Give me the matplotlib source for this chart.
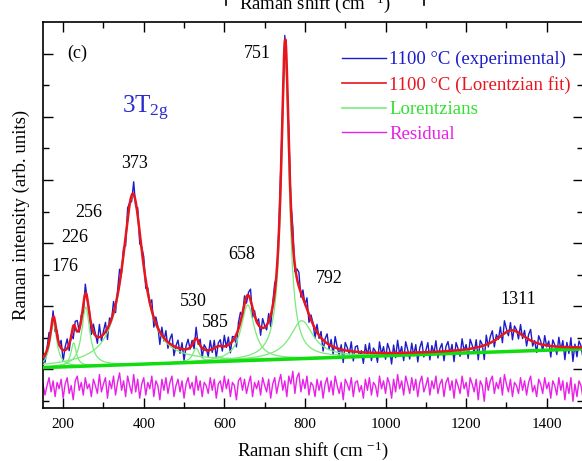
import numpy as np
import matplotlib
matplotlib.use("Agg")
import matplotlib.pyplot as plt
from matplotlib.lines import Line2D

# *
# Fonts
# *
plt.rcParams['font.family'] = ['Liberation Serif', 'DejaVu Serif']
plt.rcParams['mathtext.fontset'] = 'custom'
plt.rcParams['mathtext.rm'] = 'Liberation Serif'
plt.rcParams['mathtext.it'] = 'Liberation Serif:italic'

# *
# Data: Lorentzian fit parameters (position, height above baseline, FWHM)
# *
peak_labels  = ["176", "226", "256", "373", "530", "585", "658", "751", "792", "1311"]
peak_centers = [176, 226, 256, 373, 530, 585, 658, 751, 792, 1313]
peak_heights = [1.40, 0.75, 1.87, 5.35, 0.45, 0.15, 1.76, 9.50, 1.20, 0.65]
peak_fwhm    = [20, 16, 24, 62, 20, 30, 40, 24, 70, 90]

# linear baseline end points
base_x = [150, 1490]
base_y = [1.06, 1.65]

# residual (experimental - fit), read every 5 cm-1 from 150 to 1490
residual = [
    0.10, -0.25, 0.05, 0.30, -0.15, 0.20, -0.30, 0.15, -0.05, 0.25, -0.35, 0.10, 0.30, -0.20, 0.05, -0.40, 0.20, 0.35, -0.10, 0.15,
    -0.25, 0.30, -0.05, 0.10, -0.30, 0.25, 0.05, -0.20, 0.40, -0.15, 0.10, 0.30, -0.35, 0.20, -0.05, 0.35, -0.25, 0.15, 0.45, -0.10,
    0.20, -0.30, 0.35, 0.05, -0.20, 0.40, -0.15, 0.25, -0.35, 0.10, 0.30, -0.25, 0.15, -0.05, 0.35, -0.30, 0.20, 0.05, -0.40, 0.25,
    -0.10, 0.30, -0.20, 0.15, 0.35, -0.30, 0.05, 0.25, -0.15, 0.20, -0.35, 0.10, 0.30, -0.05, 0.15, -0.25, 0.35, -0.10, 0.20, -0.30,
    0.15, 0.05, -0.20, 0.30, -0.10, 0.25, -0.35, 0.10, 0.20, -0.15, 0.35, -0.05, 0.25, -0.30, 0.15, 0.05, -0.40, 0.20, 0.30, -0.10,
    0.25, -0.20, 0.10, 0.35, -0.30, 0.15, -0.05, 0.20, -0.25, 0.30, 0.05, -0.15, 0.25, -0.35, 0.10, 0.30, -0.20, 0.15, 0.40, -0.10,
    0.20, -0.30, 0.35, 0.10, 0.50, -0.20, 0.30, 0.45, -0.15, 0.25, -0.05, 0.35, -0.25, 0.15, 0.05, -0.30, 0.25, -0.10, 0.20, -0.35,
    0.10, 0.30, -0.15, 0.20, -0.25, 0.35, 0.05, -0.20, 0.15, -0.40, 0.25, 0.10, -0.10, 0.30, -0.30, 0.15, 0.20, -0.15, 0.05, -0.35,
    0.25, -0.10, 0.30, -0.25, 0.15, 0.05, -0.30, 0.35, -0.05, 0.20, -0.20, 0.30, 0.10, -0.35, 0.25, -0.15, 0.40, -0.05, 0.20, -0.25,
    0.35, 0.10, -0.20, 0.30, -0.10, 0.25, -0.30, 0.15, 0.35, -0.15, 0.05, 0.30, -0.25, 0.20, -0.05, 0.35, -0.20, 0.10, 0.25, -0.30,
    0.15, 0.30, -0.10, 0.20, -0.35, 0.25, 0.05, -0.20, 0.35, -0.05, 0.15, -0.30, 0.30, 0.10, -0.15, 0.25, -0.40, 0.20, 0.05, -0.45,
    0.30, -0.10, 0.20, 0.35, -0.20, 0.15, -0.05, 0.30, -0.25, 0.40, 0.10, -0.15, 0.25, -0.30, 0.15, 0.05, -0.20, 0.30, -0.10, 0.20,
    -0.25, 0.15, 0.35, -0.15, 0.05, -0.30, 0.25, 0.10, -0.20, 0.30, -0.05, 0.15, -0.35, 0.20, 0.05, -0.25, 0.30, -0.10, 0.20, -0.40,
    0.15, -0.20, 0.30, -0.45, 0.10, -0.30, 0.20, 0.05, -0.35,
]
residual_offset = 0.44

# label positions (cm-1, intensity)
label_x = [205, 229, 264, 378, 522, 577, 644, 683, 860, 1329]
label_y = [4.27, 5.19, 5.98, 7.53, 3.16, 2.50, 4.65, 11.0, 3.89, 3.20]

# *
# Build curves
# *
x_exp = np.arange(150, 1491, 5)
x_fit = np.arange(150, 1490.5, 1.0)

def lorentz(x, x0, h, w):
    g = w / 2.0
    return h * g**2 / ((x - x0)**2 + g**2)

base_fit = np.interp(x_fit, base_x, base_y)
base_exp = np.interp(x_exp, base_x, base_y)

fit_curve = base_fit.copy()
fit_at_exp = base_exp.copy()
for c, h, w in zip(peak_centers, peak_heights, peak_fwhm):
    fit_curve += lorentz(x_fit, c, h, w)
    fit_at_exp += lorentz(x_exp, c, h, w)

exp_curve = fit_at_exp + np.array(residual)
res_curve = np.array(residual) + residual_offset

# *
# Plot
# *
fig = plt.figure(figsize=(5.82, 4.61), dpi=100)
ax = fig.add_axes([43/582, 53/461, 540/582, 386/461])

c_exp = '#1c1cc8'
c_fit = '#e8141e'
c_lor = '#7aea7a'
c_base = '#10dc10'
c_res = '#e820e8'

ax.plot(x_exp, exp_curve, color=c_exp, lw=1.0, zorder=2)
for c, h, w in zip(peak_centers, peak_heights, peak_fwhm):
    ax.plot(x_fit, base_fit + lorentz(x_fit, c, h, w), color=c_lor, lw=0.9, zorder=3)
ax.plot(base_x, base_y, color=c_base, lw=2.5, zorder=4)
ax.plot(x_fit, fit_curve, color=c_fit, lw=1.8, zorder=5)
ax.plot(x_exp, res_curve, color=c_res, lw=1.0, zorder=2)

ax.set_xlim(150, 1490)
ax.set_ylim(-0.22, 12.0)

ax.set_xticks([200, 400, 600, 800, 1000, 1200, 1400])
ax.set_xticks(np.arange(200, 1500, 100), minor=True)
ax.set_yticks([1, 3, 5, 7, 9, 11])
ax.set_yticks([0, 2, 4, 6, 8, 10], minor=True)
ax.set_yticklabels([])
ax.tick_params(which='both', direction='in', top=True, right=True, width=1.0, pad=7, labelsize=11)
ax.tick_params(which='major', length=7)
ax.tick_params(which='minor', length=4)
for sp in ax.spines.values():
    sp.set_linewidth(1.2)

ax.set_xlabel("Raman shift (cm $^{-1}$)", fontsize=13.5, labelpad=6)
ax.set_ylabel("Raman intensity (arb. units)", fontsize=13.5, labelpad=2)

# peak labels
for lab, lx, ly in zip(peak_labels, label_x, label_y):
    ax.text(lx, ly, lab, fontsize=13, ha='center', va='center')

ax.text(234, 11.0, "(c)", fontsize=13, ha='center', va='center')
ax.text(346, 9.11, "3T$_{\\mathregular{2g}}$", fontsize=18, color='#2a2ad0', ha='left', va='baseline')

# legend
handles = [Line2D([], [], color=c_exp, lw=1.0),
           Line2D([], [], color=c_fit, lw=1.2),
           Line2D([], [], color=c_lor, lw=1.2),
           Line2D([], [], color=c_res, lw=1.0)]
names = ["1100 \u00b0C (experimental)", "1100 \u00b0C (Lorentzian fit)", "Lorentzians", "Residual"]
leg = ax.legend(handles, names, loc='upper left', bbox_to_anchor=(0.554, 0.925), frameon=False,
                fontsize=13.5, handlelength=2.35, handletextpad=0.16, labelspacing=0.4, borderpad=0,
                borderaxespad=0)
for t, col in zip(leg.get_texts(), [c_exp, c_fit, '#30e030', c_res]):
    t.set_color(col)

# cut-off bits of the panel above
fig.text(315/582, 1 - 9/461, "Raman shift (cm $^{-1}$)", fontsize=13.5, ha='center', va='baseline')
for px in [226, 424]:
    fig.add_artist(Line2D([px/582, px/582], [1, 1 - 5/461], color='black', lw=1.2, transform=fig.transFigure))

fig.savefig("out.png", dpi=100)
